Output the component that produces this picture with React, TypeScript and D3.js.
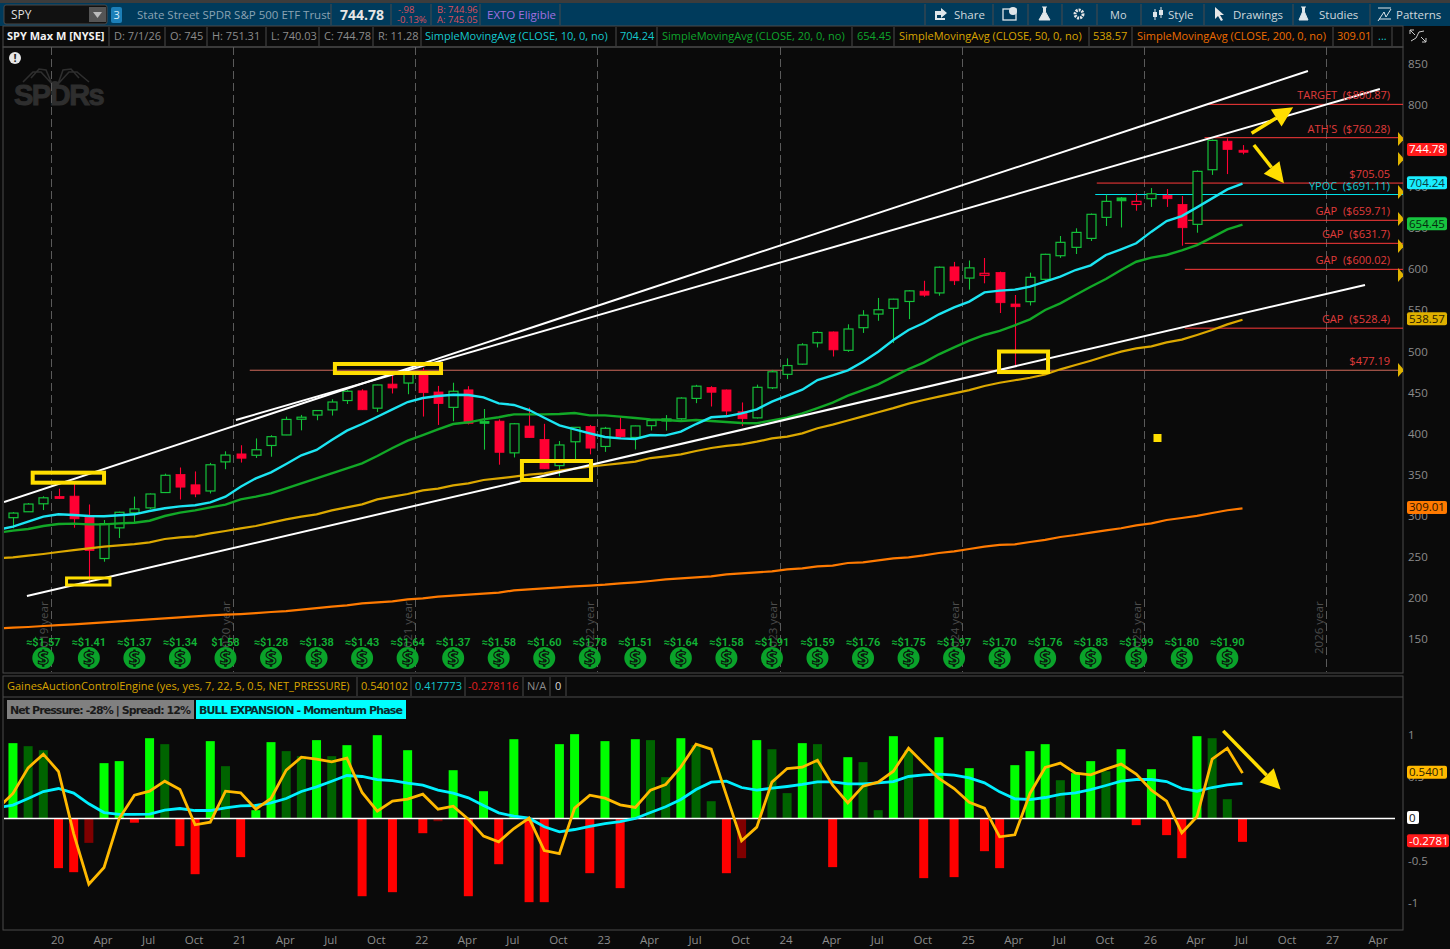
import * as d3 from 'd3';
import React from 'react';

// monthly bars, Oct 2019 .. Jul 2026. month 0 is Jan 2020
const firstMonth = -3;
const opens = [297.7, 304.9, 314.6,
  323.5, 323.9, 298.2, 248, 285.3, 303.6, 309.6, 328.3, 350.2, 337.7, 330.2, 365.6,
  375.3, 373.7, 385.6, 398.4, 419.4, 422.6, 428.9, 440.3, 452.1, 431, 460.3, 461.6,
  476.3, 450.7, 432, 453.3, 415, 415.2, 376.6, 409.2, 392.9, 361.1, 390.1, 408.8,
  384.4, 405.2, 395.4, 409.7, 415.5, 418.1, 442.9, 456.3, 453.2, 426.6, 419.2, 455.8,
  472.2, 484.6, 510.5, 523.8, 501.4, 529, 545.6, 552.6, 560.9, 573.4, 571.3, 603,
  589.4, 592.8, 596.2, 557.8, 560.7, 587.9, 616.6, 626.8, 637.7, 663.3, 687, 679,
  686, 690, 679, 654.8, 721.3, 756, 745];
const highs = [304.5, 315.5, 323.8,
  332.95, 339, 313.8, 294.9, 305, 323.4, 327.2, 351.3, 358.8, 354, 364.4, 378.5,
  385.9, 394.2, 398.1, 420.7, 422.8, 428.8, 441.8, 453, 454, 459.6, 473.5, 479,
  480, 458.1, 462, 457.8, 430, 417.4, 413, 431.7, 412, 391, 407.7, 410.5,
  408.2, 419.9, 409.7, 416.6, 422.6, 444.3, 459.4, 457.8, 453.7, 438, 459.65, 477.6,
  491.6, 510.1, 524.6, 524.4, 533.1, 550.3, 565.2, 564.2, 574.7, 586.1, 603.4, 609.1,
  610.8, 613.8, 597.3, 568.8, 596, 619, 640.6, 650, 668, 691, 688, 692.5,
  699, 697.8, 689.3, 720.5, 758, 759.5, 751.31];
const lows = [284.8, 304.7, 307,
  320.4, 285.5, 218.3, 244.1, 273, 292.1, 308.3, 327.7, 319.8, 322.6, 327.2, 356.7,
  364.8, 370.4, 371.9, 398.2, 404, 416.3, 422, 436.1, 428.8, 426.4, 448.9, 448,
  420.8, 410.6, 415.1, 411.2, 380.5, 362.2, 371, 395, 357, 348.1, 368.8, 374.8,
  377.8, 393.4, 380.7, 403.8, 403.7, 416.8, 437.1, 433, 422.3, 409.2, 418.5, 454.3,
  466.4, 483.8, 504.9, 493.9, 499.6, 522.6, 537.4, 510.3, 539.4, 566.6, 567.9, 580.9,
  575.3, 583, 546.9, 483, 556, 585, 614, 618.7, 634.5, 652.8, 651, 671.4,
  676, 676, 628.8, 644.6, 715, 716, 740.03];
const closes = [303.3, 314.3, 321.9,
  321.7, 296.3, 257.8, 290.5, 304.3, 308.4, 326.5, 349.3, 334.9, 326.5, 362.1, 373.9,
  370.1, 380.4, 396.3, 417.3, 420, 428.1, 438.5, 451.6, 429.1, 459.25, 455.6, 475,
  449.9, 436.6, 451.6, 412.6, 412.9, 377.3, 412, 395.2, 357.2, 386.2, 407.7, 382.4,
  406.5, 396.3, 409.4, 415.9, 417.9, 443.3, 457.8, 450.4, 427.5, 418.2, 456.4, 475.3,
  482.9, 508.1, 523.1, 502, 527.4, 544.2, 550.8, 563.7, 573.8, 568.6, 602.6, 586.1,
  601.8, 595.2, 559.4, 554.5, 590.3, 618.3, 632.9, 645, 667, 682.8, 683.4, 682.8,
  692, 686, 650.7, 719.3, 757, 746, 744.78];

// moving averages and oscillator lines begin one month earlier, Sep 2019
const firstLineMonth = -4;
const sma10 = [283, 286.7, 292.8, 298.9,
  301.8, 301, 299.7, 299.4, 300.6, 301.8, 305.8, 309.1, 311.5, 312.8, 316.4, 323.2,
  335.4, 345.6, 352.9, 363, 373.6, 380.1, 392.3, 403.6, 411.7, 420.6, 429.6, 438.5,
  443.4, 445.8, 447.4, 447, 444.2, 436.9, 434.9, 428.8, 419.4, 410.1, 405.2, 400.4,
  395.9, 394.3, 393.5, 398.3, 397.9, 402.4, 411.7, 419.9, 421.1, 424.7, 429.6, 438.9,
  446.2, 453.5, 465.3, 471, 477, 487.6, 499.8, 514, 526.2, 534.7, 545.3, 553.8,
  560.7, 572, 574.1, 575.3, 579, 585, 591.1, 599.2, 604.9, 617.5, 624.4, 631.7,
  645.9, 658.8, 664.9, 675.5, 686.4, 697.4, 704.24];
const sma20 = [279.4, 281.9, 283.9, 287.6,
  290, 290.4, 289.6, 289.6, 290.8, 291.6, 294, 299.7, 303.8, 306.6, 310.3, 313.5,
  320, 323.3, 327.3, 333.4, 339.5, 345.6, 351.7, 357.8, 363.9, 372.8, 382.5, 391.4,
  398.3, 405.2, 411.7, 413.8, 417.4, 419.9, 423.5, 423.5, 423.5, 423.9, 425.1, 422.3,
  422.3, 420.7, 419, 417.4, 416.6, 415.4, 416.6, 415.4, 414.2, 413, 412.6, 416.2,
  419.4, 424.7, 431.2, 437.7, 446.2, 453.1, 460, 469.4, 478.7, 486.4, 496.6, 505.1,
  513.2, 520.1, 525, 531.9, 539.2, 550.5, 558.6, 568.8, 578.9, 588.2, 599.2, 609.3,
  614.2, 617.5, 623.1, 629.6, 639, 648.7, 654.45];
const sma50 = [248.2, 249.4, 251.4, 253.5,
  255.9, 258.3, 260.4, 262.4, 264, 265.6, 267.7, 271.7, 273.8, 275, 278.6, 281.5,
  284.7, 287.6, 291.6, 295.7, 298.9, 301.8, 306.6, 310.3, 313.9, 320, 323.3, 326.5,
  331, 333, 337.1, 339.5, 343.6, 345.6, 347.6, 350, 351.7, 354.9, 357.4, 359.8,
  361.8, 363.9, 365.9, 370.3, 372.4, 374.8, 378.9, 382.5, 385, 387, 390.2, 394.3,
  396.3, 400.4, 406.5, 411, 416, 421, 426, 431, 436.5, 441, 445, 449,
  453, 458, 462, 465, 468, 472, 478.3, 483.5, 488.8, 494.5, 499.8, 503.8,
  506.3, 511.1, 514.4, 520.1, 526.2, 533, 538.57];
const sma200 = [162.9, 163.8, 164.6, 165.8,
  167, 167.8, 169, 170.3, 171.5, 172.7, 173.9, 175.2, 176.4, 177.6, 178.8, 179.6,
  180.4, 181.6, 182.9, 184, 185.7, 187.7, 189.3, 191, 193.4, 194.6, 195.8, 198.3,
  199.5, 201.5, 202.7, 204, 205.2, 206.4, 209.2, 210.4, 211.7, 212.9, 214.1, 214.9,
  216.1, 217.8, 219, 220.6, 222.6, 223.8, 225, 226.3, 228.7, 229.9, 231.1, 232.4,
  234.8, 236, 238.4, 239.3, 242.5, 243.3, 245.7, 248.2, 249.4, 251.8, 254.7, 256.7,
  259.6, 262.4, 264.5, 265.3, 268.1, 270.6, 274.2, 276.6, 279.5, 282.3, 284.8, 288.4,
  290.8, 294.9, 297.3, 299.8, 303.4, 306.7, 309.01];

const netPressure = [0.897, 0.861, 0.813,
  -0.591, -0.639, -0.29, 0.659, 0.683, -0.05, 0.956, 0.885, -0.329, -0.663, 0.921, 0.623,
  -0.46, 0.099, 0.909, 0.802, 0.742, 0.933, 0.742, 0.873, -0.925, 0.992, -0.877, 0.813,
  -0.175, -0.032, 0.575, -0.925, 0.325, -0.544, 0.944, -0.996, -0.996, 0.885, 1.004, -0.651,
  0.921, -0.829, 0.944, 0.933, 0.492, 0.956, 0.873, 0.206, -0.651, -0.472, 0.933, 0.825,
  0.302, 0.897, 0.885, -0.579, 0.73, 0.671, 0.099, 0.98, 0.813, -0.71, 0.968, -0.698,
  0.599, -0.389, -0.591, 0.635, 0.802, 0.885, 0.456, 0.54, 0.683, 0.563, 0.825, -0.079,
  0.587, -0.198, -0.472, 0.98, 0.956, 0.23, -0.278];
const fastLine = [0.12, 0.298, 0.603, 0.766,
  0.56, -0.179, -0.782, -0.583, 0, 0.278, 0.325, 0.444, 0.345, -0.075, -0.044, 0.325,
  0.306, 0.111, 0.238, 0.575, 0.73, 0.706, 0.675, 0.718, 0.31, 0.087, 0.206, 0.23,
  0.29, 0.111, 0.147, -0.008, -0.21, -0.278, -0.119, 0.004, -0.381, -0.417, 0.123, 0.278,
  0.242, 0.163, 0.131, 0.337, 0.405, 0.615, 0.885, 0.825, 0.278, -0.266, -0.103, 0.433,
  0.595, 0.611, 0.694, 0.397, 0.187, 0.385, 0.433, 0.563, 0.837, 0.655, 0.476, 0.357,
  0.194, 0.123, -0.218, -0.194, 0.298, 0.607, 0.659, 0.54, 0.52, 0.587, 0.647, 0.528,
  0.337, 0.206, -0.171, 0.02, 0.706, 0.837, 0.54];
const slowLine = [0.13, 0.159, 0.238, 0.321,
  0.357, 0.302, 0.175, 0.071, 0.048, 0.048, 0.052, 0.099, 0.119, 0.095, 0.095, 0.127,
  0.151, 0.155, 0.187, 0.238, 0.321, 0.377, 0.444, 0.512, 0.5, 0.464, 0.452, 0.421,
  0.397, 0.337, 0.302, 0.246, 0.155, 0.067, 0.028, 0.004, -0.099, -0.159, -0.131, -0.095,
  -0.06, -0.036, 0, 0.071, 0.139, 0.226, 0.345, 0.433, 0.444, 0.369, 0.337, 0.361,
  0.381, 0.405, 0.437, 0.437, 0.413, 0.413, 0.425, 0.44, 0.5, 0.52, 0.528, 0.516,
  0.484, 0.425, 0.317, 0.234, 0.226, 0.25, 0.286, 0.306, 0.345, 0.393, 0.444, 0.464,
  0.464, 0.44, 0.357, 0.325, 0.369, 0.401, 0.417];

// quarterly dividends
const dividendMonths = [-1, 2, 5, 8, 11, 14, 17, 20, 23, 26, 29, 32, 35, 38, 41, 44, 47, 50, 53, 56, 59, 62, 65, 68, 71, 74, 77];
const dividendLabels = ['≈$1.57', '≈$1.41', '≈$1.37', '≈$1.34', '$1.58', '≈$1.28', '≈$1.38', '≈$1.43', '≈$1.64', '≈$1.37',
  '≈$1.58', '≈$1.60', '≈$1.78', '≈$1.51', '≈$1.64', '≈$1.58', '≈$1.91', '≈$1.59', '≈$1.76', '≈$1.75', '≈$1.97', '≈$1.70',
  '≈$1.76', '≈$1.83', '≈$1.99', '≈$1.80', '≈$1.90'];

const yearMonths = [-0.5, 11.5, 23.5, 35.5, 47.5, 59.5, 71.5, 83.5];
const yearLabels = ['2019 year', '2020 year', '2021 year', '2022 year', '2023 year', '2024 year', '2025 year', '2026 year'];

const timeTicks = d3.range(0, 88, 3);
const timeLabels = ['20', 'Apr', 'Jul', 'Oct', '21', 'Apr', 'Jul', 'Oct', '22', 'Apr', 'Jul', 'Oct', '23', 'Apr', 'Jul', 'Oct',
  '24', 'Apr', 'Jul', 'Oct', '25', 'Apr', 'Jul', 'Oct', '26', 'Apr', 'Jul', 'Oct', '27', 'Apr'];
const priceTicks = [850, 800, 700, 650, 600, 550, 500, 450, 400, 350, 300, 250, 200, 150];

// hand drawn levels
const levelPrices = [800.87, 760.28, 705.05, 691.11, 659.71, 631.7, 600.02, 528.4, 477.19];
const levelStarts = [75.66, 75.5, 68.4, 68.3, 74.4, 74.2, 74.2, 74.2, 12.6];
const levelNames = ['TARGET  ($800.87)', "ATH'S  ($760.28)", '$705.05', 'YPOC  ($691.11)', 'GAP  ($659.71)', 'GAP  ($631.7)', 'GAP  ($600.02)', 'GAP  ($528.4)', '$477.19'];
const alertPrices = [758.7, 734.3, 694.2, 661.3, 628.4, 593.1, 477.5];

const trendFrom = [[-3.59, 316.8], [11.69, 416.6], [-2.08, 202.4]];
const trendTo = [[82.31, 841.5], [87.05, 819.6], [86.07, 581]];

const boxMonths = [[-1.7, 3.0], [0.53, 3.39], [18.21, 25.2], [30.53, 35.08], [61.96, 65.19]];
const boxPrices = [[352.5, 340.3], [224.3, 215.7], [484.8, 473.8], [366.7, 343.6], [500, 475]];
const boxStrokes = [4, 3, 4, 4, 4];

const x = d3.scaleLinear().domain([0, 78]).range([58.5, 1242.5]);
const y = d3.scaleLinear().domain([850, 150]).range([64, 639]);
const yOsc = d3.scaleLinear().domain([1, -1]).range([734.5, 902.5]);

const CHART_FONT = '"Open Sans", sans-serif';
const YELLOW = '#ffde00';
const RED = '#ff0033';
const GREEN = '#14c23a';

const priceLine = d3.line<number>().x((d, i) => x(i + firstLineMonth)).y((d) => y(d));
const oscLine = d3.line<number>().x((d, i) => x(i + firstLineMonth)).y((d) => yOsc(d));

function Arrow(props: { x1: number; y1: number; x2: number; y2: number }) {
  const { x1, y1, x2, y2 } = props;
  const a = Math.atan2(y2 - y1, x2 - x1);
  const len = 20;
  const half = 10;
  const bx = x2 - len * Math.cos(a);
  const by = y2 - len * Math.sin(a);
  const nx = -Math.sin(a) * half;
  const ny = Math.cos(a) * half;
  return (
    <g>
      <line x1={x1} y1={y1} x2={bx} y2={by} stroke={YELLOW} strokeWidth={3.5} />
      <path d={`M${x2},${y2}L${bx + nx},${by + ny}L${bx - nx},${by - ny}Z`} fill={YELLOW} />
    </g>
  );
}

function Tag(props: { y: number; text: string; fill: string; color: string; w?: number }) {
  const w = props.w || 40;
  return (
    <g>
      <rect x={1407} y={props.y - 6.5} width={w} height={13} rx={2} fill={props.fill} />
      <text x={1409} y={props.y + 4} fontSize={11.5} fill={props.color}>{props.text}</text>
    </g>
  );
}

function Sep(props: { x: number; y1: number; y2: number }) {
  return <line x1={props.x} x2={props.x} y1={props.y1} y2={props.y2} stroke="#4a4a4a" />;
}

export default function App() {
  const candles = opens.map((o, i) => {
    const c = closes[i];
    const prev = i > 0 ? closes[i - 1] : o;
    const cx = Math.round(x(i + firstMonth)) + 0.5;
    const color = c >= prev ? GREEN : RED;
    const filled = c < o;
    const top = y(Math.max(o, c));
    const bot = y(Math.min(o, c));
    return (
      <g key={i}>
        <line x1={cx} x2={cx} y1={y(highs[i])} y2={y(lows[i])} stroke={color} strokeWidth={1.1} />
        <rect
          x={cx - 4.5}
          y={top}
          width={9}
          height={Math.max(bot - top, 2)}
          fill={filled ? color : '#0a0a0a'}
          stroke={color}
          strokeWidth={filled ? 0.8 : 1.2}
        />
      </g>
    );
  });

  const bars = netPressure.map((v, i) => {
    const prev = i > 0 ? netPressure[i - 1] : v;
    let color = '#ff0000';
    if (v >= 0) color = v >= prev ? '#00ff00' : '#006400';
    else if (v > prev) color = '#800000';
    const bx = x(i + firstMonth);
    return (
      <rect
        key={i}
        x={bx - 4.5}
        y={Math.min(yOsc(v), yOsc(0))}
        width={9}
        height={Math.abs(yOsc(v) - yOsc(0))}
        fill={color}
      />
    );
  });

  return (
    <svg
      width={1450}
      height={949}
      style={{ position: 'absolute', left: 0, top: 0, display: 'block', background: '#0a0a0a' }}
      fontFamily={CHART_FONT}
    >
      <defs>
        <clipPath id="priceClip"><rect x={4} y={47} width={1399} height={625} /></clipPath>
        <clipPath id="oscClip"><rect x={4} y={697} width={1399} height={233} /></clipPath>
      </defs>

      {/* top toolbar */}
      <rect x={0} y={0} width={1450} height={3} fill="#3c3c3c" />
      <rect x={0} y={3} width={1450} height={23} fill="#003b5c" />
      <rect x={4} y={5} width={103} height={19} rx={2} fill="#111" stroke="#4a4a4a" />
      <text x={11} y={19} fontSize={12} fill="#ddd">SPY</text>
      <rect x={89} y={7} width={17} height={15} fill="#555" />
      <path d="M93,12L102,12L97.5,18Z" fill="#bbb" />
      <rect x={111} y={7} width={11} height={16} rx={2} fill="#1c7fb8" />
      <text x={113.5} y={19} fontSize={11} fill="#d8eef8">3</text>
      <text x={137} y={19} fontSize={11.5} fill="#8aa3b3">State Street SPDR S&amp;P 500 ETF Trust</text>
      <text x={340} y={20} fontSize={14} fontWeight={700} fill="#e6e6e6">744.78</text>
      <text x={398} y={13} fontSize={9.5} fill="#d9505c">-.98</text>
      <text x={397} y={23} fontSize={9.5} fill="#d9505c">-0.13%</text>
      <text x={437} y={13} fontSize={9.5} fill="#d9505c">B: 744.96</text>
      <text x={437} y={23} fontSize={9.5} fill="#d9505c">A: 745.05</text>
      <text x={487} y={19} fontSize={11.5} fill="#a070e0">EXTO Eligible</text>
      <Sep x={331} y1={4} y2={25} />
      <Sep x={391} y1={4} y2={25} />
      <Sep x={431} y1={4} y2={25} />
      <Sep x={480} y1={4} y2={25} />
      <Sep x={560} y1={4} y2={25} />
      {[925, 993, 1028, 1062, 1097, 1141, 1204, 1293, 1370].map((sx) => <Sep key={sx} x={sx} y1={4} y2={25} />)}
      <path d="M935,11h6v-3l6,5l-6,5v-3h-4v3h8v2h-10z" fill="#dfe6ea" />
      <text x={954} y={19} fontSize={11.5} fill="#cfd8dd">Share</text>
      <rect x={1003} y={9} width={13} height={11} fill="none" stroke="#dfe6ea" strokeWidth={1.3} />
      <circle cx={1013} cy={11} r={4} fill="#dfe6ea" />
      <path d="M1042,7h5M1043.5,7v5l-4.5,8h11l-4.5,-8v-5" fill="#dfe6ea" stroke="#dfe6ea" />
      <circle cx={1079} cy={14} r={4} fill="none" stroke="#e8e8e8" strokeWidth={3} strokeDasharray="2 1" />
      <text x={1110} y={19} fontSize={11} fill="#cfd8dd">Mo</text>
      <path d="M1155,9v11M1161,7v11" stroke="#dfe6ea" />
      <rect x={1153} y={12} width={4} height={5} fill="#dfe6ea" />
      <rect x={1159} y={10} width={4} height={5} fill="#dfe6ea" />
      <text x={1168} y={19} fontSize={11.5} fill="#cfd8dd">Style</text>
      <path d="M1215,7l0,12l3,-3l3,5l2,-1l-3,-5l4,0z" fill="#e8e8e8" />
      <text x={1233} y={19} fontSize={11.5} fill="#cfd8dd">Drawings</text>
      <path d="M1301,7h5M1302.5,7v5l-3.5,8h9l-3.5,-8v-5" fill="#dfe6ea" stroke="#dfe6ea" />
      <text x={1319} y={19} fontSize={11.5} fill="#cfd8dd">Studies</text>
      <path d="M1378,8h13M1378,21l6,-9l2,5l5,-8M1379,19h12" stroke="#dfe6ea" fill="none" />
      <text x={1396} y={19} fontSize={11.5} fill="#cfd8dd">Patterns</text>

      {/* study legend row */}
      <rect x={3} y={26} width={1400} height={21} fill="#0a0a0a" stroke="#4a4a4a" />
      <text x={7} y={40} fontSize={11} fontWeight={700} fill="#f2f2f2">SPY Max M [NYSE]</text>
      <text x={114} y={40} fontSize={11} fill="#8c8c8c">D: 7/1/26</text>
      <text x={170} y={40} fontSize={11} fill="#8c8c8c">O: 745</text>
      <text x={212} y={40} fontSize={11} fill="#8c8c8c">H: 751.31</text>
      <text x={271} y={40} fontSize={11} fill="#8c8c8c">L: 740.03</text>
      <text x={324} y={40} fontSize={11} fill="#8c8c8c">C: 744.78</text>
      <text x={378} y={40} fontSize={11} fill="#8c8c8c">R: 11.28</text>
      <text x={425} y={40} fontSize={11} fill="#14c8cf">SimpleMovingAvg (CLOSE, 10, 0, no)</text>
      <text x={620} y={40} fontSize={11} fill="#14c8cf">704.24</text>
      <text x={662} y={40} fontSize={11} fill="#0fa52c">SimpleMovingAvg (CLOSE, 20, 0, no)</text>
      <text x={857} y={40} fontSize={11} fill="#0fa52c">654.45</text>
      <text x={899} y={40} fontSize={11} fill="#d9a400">SimpleMovingAvg (CLOSE, 50, 0, no)</text>
      <text x={1093} y={40} fontSize={11} fill="#d9a400">538.57</text>
      <text x={1137} y={40} fontSize={11} fill="#ee6c00">SimpleMovingAvg (CLOSE, 200, 0, no)</text>
      <text x={1337} y={40} fontSize={11} fill="#ee6c00">309.01</text>
      <text x={1378} y={40} fontSize={11} fill="#14c8cf">...</text>
      {[109, 165, 207, 266, 319, 373, 421, 616, 657, 852, 894, 1089, 1132, 1333, 1372, 1392].map((sx) => (
        <Sep key={sx} x={sx} y1={27} y2={46} />
      ))}
      <path d="M1410,30l5,5M1410,30v4M1410,30h4M1426,42l-5,-5M1426,42v-4M1426,42h-4M1411,41l5,-3l3,-6l5,-1" stroke="#ccc" fill="none" />

      {/* frames */}
      <rect x={3} y={47} width={1400} height={626} fill="none" stroke="#4a4a4a" />
      <rect x={3} y={676} width={1400} height={254} fill="none" stroke="#4a4a4a" />
      <line x1={3} x2={1403} y1={697} y2={697} stroke="#4a4a4a" />

      {/* watermark */}
      <circle cx={15} cy={58} r={6} fill="#e6e6e6" />
      <text x={15} y={62} textAnchor="middle" fontSize={11} fontWeight={700} fill="#222">!</text>
      <text x={14} y={105} fontSize={29} fontWeight={700} letterSpacing={-1.5} fill="#2e2e2e" stroke="#2e2e2e" strokeWidth={1} fontFamily="Liberation Sans">SPDRs</text>
      <path d="M52,84l-11,-12l-8,0l-10,10M52,84l-6,-14l-7,-1l-8,9M58,84l5,-14l8,-1l8,9M58,84l11,-12l8,0l12,10" fill="none" stroke="#2e2e2e" strokeWidth={1.6} />
      <ellipse cx={55} cy={84} rx={4} ry={3} fill="#2e2e2e" />

      {/* price pane */}
      <g clipPath="url(#priceClip)">
        {yearMonths.map((m, i) => (
          <g key={m}>
            <line x1={Math.round(x(m)) + 0.5} x2={Math.round(x(m)) + 0.5} y1={47} y2={672} stroke="#5a5a5a" strokeDasharray="8 4" />
            <text
              transform={`translate(${x(m) - 3},654) rotate(-90)`}
              fontSize={11.5}
              fill="#4d4d4d"
            >
              {yearLabels[i]}
            </text>
          </g>
        ))}

        {levelPrices.map((p, i) => (
          <line
            key={p}
            x1={x(levelStarts[i])}
            x2={1403}
            y1={y(p)}
            y2={y(p)}
            stroke={p === 691.11 ? '#00e5ee' : p === 477.19 ? '#d06a5c' : '#ff3a3a'}
            strokeWidth={1}
          />
        ))}

        {candles}

        <path d={priceLine(sma200) || ''} fill="none" stroke="#ff7a00" strokeWidth={2.2} />
        <path d={priceLine(sma50) || ''} fill="none" stroke="#dca800" strokeWidth={2.2} />
        <path d={priceLine(sma20) || ''} fill="none" stroke="#12a827" strokeWidth={2.4} />
        <path d={priceLine(sma10) || ''} fill="none" stroke="#1ce5f2" strokeWidth={2.4} />

        {trendFrom.map((a, i) => (
          <line
            key={i}
            x1={x(a[0])}
            y1={y(a[1])}
            x2={x(trendTo[i][0])}
            y2={y(trendTo[i][1])}
            stroke="#ffffff"
            strokeWidth={2}
          />
        ))}

        {boxMonths.map((m, i) => (
          <rect
            key={i}
            x={x(m[0])}
            y={y(boxPrices[i][0])}
            width={x(m[1]) - x(m[0])}
            height={y(boxPrices[i][1]) - y(boxPrices[i][0])}
            fill="none"
            stroke={YELLOW}
            strokeWidth={boxStrokes[i]}
          />
        ))}

        <rect x={x(72.4) - 4} y={y(394.7) - 4} width={8} height={8} fill={YELLOW} />

        <Arrow x1={x(78.6)} y1={y(765.6)} x2={x(81.34)} y2={y(797.3)} />
        <Arrow x1={x(78.75)} y1={y(751.4)} x2={x(80.73)} y2={y(704.8)} />

        {levelPrices.map((p, i) => (
          <text
            key={p}
            x={1390}
            y={y(p) - 5}
            textAnchor="end"
            fontSize={11}
            fill={p === 691.11 ? '#14c8cf' : '#e03c3c'}
            style={{ whiteSpace: 'pre' }}
          >
            {levelNames[i]}
          </text>
        ))}

        {alertPrices.map((p) => (
          <path key={p} d={`M1398,${y(p) - 7}L1404,${y(p)}L1398,${y(p) + 7}Z`} fill="#e0b400" />
        ))}

        {dividendMonths.map((m, i) => (
          <g key={m}>
            <text x={x(m)} y={646} textAnchor="middle" fontSize={11} fontWeight={600} fill="#12b336" fontFamily="Roboto">
              {dividendLabels[i]}
            </text>
            <circle cx={x(m)} cy={658} r={11} fill="#0aa32a" />
            <text x={x(m)} y={665} textAnchor="middle" fontSize={20} fontWeight={700} fill="#0aa32a" stroke="#0a0a0a" strokeWidth={1}>$</text>
          </g>
        ))}
      </g>

      {/* price axis */}
      {priceTicks.map((t) => (
        <text key={t} x={1408} y={y(t) + 4} fontSize={11.5} fill="#8c8c8c">{t}</text>
      ))}
      <Tag y={y(744.78) - 1} text="744.78" fill="#ff1a1a" color="#fff" />
      <Tag y={y(704.24) - 1} text="704.24" fill="#19eeff" color="#0a3a40" />
      <Tag y={y(654.45) - 1} text="654.45" fill="#17c33f" color="#062a10" />
      <Tag y={y(538.57) - 1} text="538.57" fill="#e0b000" color="#2a2000" />
      <Tag y={y(309.01) - 1} text="309.01" fill="#ff7a00" color="#2a1400" />

      {/* oscillator pane */}
      <text x={7} y={690} fontSize={11} fill="#d9a400">GainesAuctionControlEngine (yes, yes, 7, 22, 5, 0.5, NET_PRESSURE)</text>
      <text x={361} y={690} fontSize={11} fill="#d9a400">0.540102</text>
      <text x={415} y={690} fontSize={11} fill="#14c8cf">0.417773</text>
      <text x={468} y={690} fontSize={11} fill="#e02020">-0.278116</text>
      <text x={527} y={690} fontSize={11} fill="#8c8c8c">N/A</text>
      <text x={555} y={690} fontSize={11} fill="#d8d8d8">0</text>
      {[357, 411, 465, 523, 550, 566].map((sx) => <Sep key={sx} x={sx} y1={677} y2={696} />)}

      <rect x={7} y={700} width={187} height={19} fill="#808080" />
      <text x={10} y={713.5} fontSize={11} fontWeight={700} fill="#1a1a1a" fontFamily="DejaVu Sans" textLength={181}>Net Pressure: -28% | Spread: 12%</text>
      <rect x={196} y={700} width={210} height={19} fill="#00ffff" />
      <text x={199} y={713.5} fontSize={11} fontWeight={700} fill="#0a2a2a" fontFamily="DejaVu Sans" textLength={204}>BULL EXPANSION - Momentum Phase</text>

      <g clipPath="url(#oscClip)">
        {bars}
        <line x1={4} x2={1395} y1={yOsc(0)} y2={yOsc(0)} stroke="#ffffff" strokeWidth={1.5} />
        <path d={oscLine(slowLine) || ''} fill="none" stroke="#00f0ff" strokeWidth={2.8} />
        <path d={oscLine(fastLine) || ''} fill="none" stroke="#ffb900" strokeWidth={2.8} />
        <Arrow x1={x(76.73)} y1={yOsc(1.043)} x2={x(80.51)} y2={yOsc(0.345)} />
      </g>

      {[1, 0.5, -0.5, -1].map((t) => (
        <text key={t} x={1408} y={yOsc(t) + 4} fontSize={11.5} fill="#8c8c8c">{t}</text>
      ))}
      <Tag y={yOsc(0.54) - 1} text="0.5401" fill="#ffb900" color="#2a2000" />
      <Tag y={yOsc(0) - 1} text="0" fill="#ffffff" color="#111" w={12} />
      <Tag y={yOsc(-0.278) - 1} text="-0.2781" fill="#ff1a1a" color="#fff" w={42} />

      {/* time axis */}
      {timeTicks.map((m, i) => (
        <text key={m} x={x(m) - 1} y={944} textAnchor="middle" fontSize={11.5} fill="#8c8c8c">{timeLabels[i]}</text>
      ))}
    </svg>
  );
}
